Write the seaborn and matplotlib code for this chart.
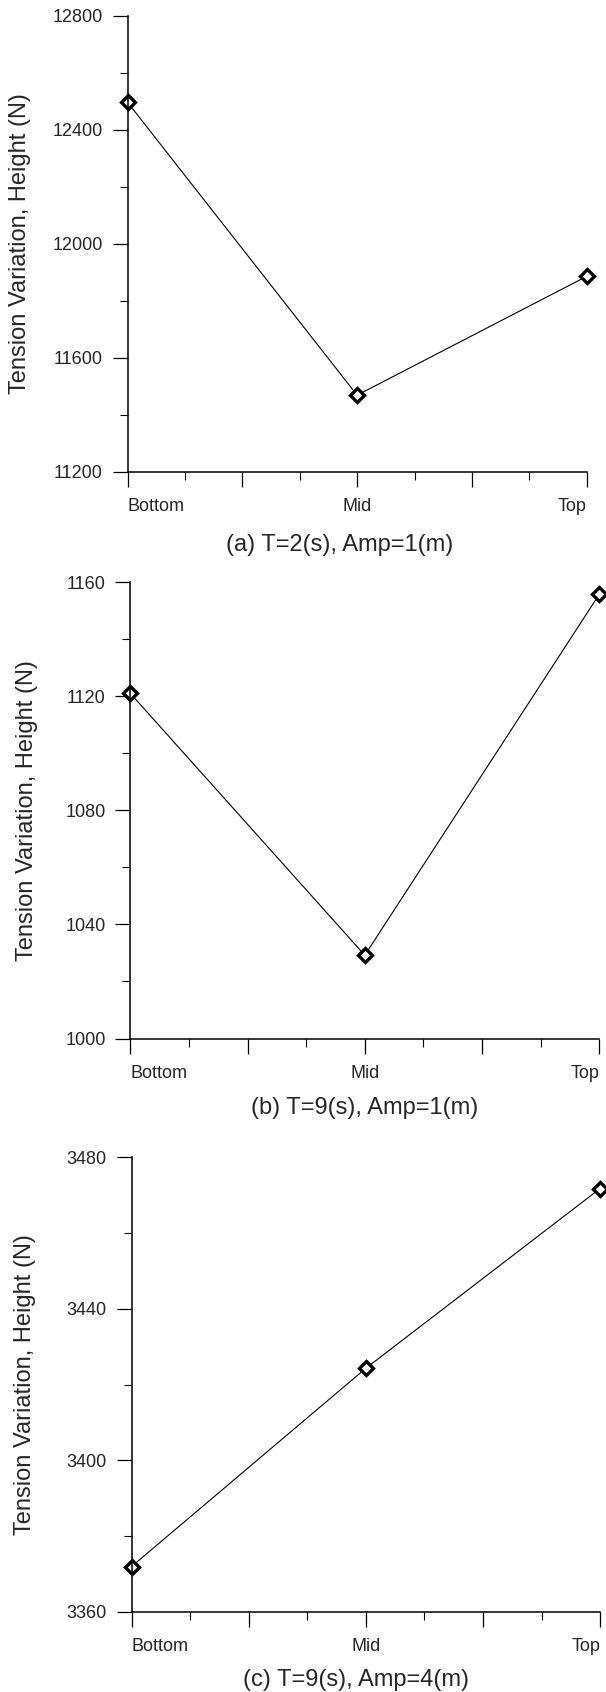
import matplotlib
matplotlib.use("Agg")
import matplotlib.pyplot as plt
import seaborn as sns
from matplotlib.ticker import MultipleLocator
from matplotlib.transforms import ScaledTranslation

heights = ["Bottom", "Mid", "Top"]

tension_a = [12496, 11468, 11885]
tension_b = [1121.0, 1029.2, 1155.7]
tension_c = [3371.9, 3424.3, 3471.8]

captions = ["(a) T=2(s), Amp=1(m)", "(b) T=9(s), Amp=1(m)", "(c) T=9(s), Amp=4(m)"]
ylims = [(11200, 12800), (1000, 1160), (3360, 3480)]
ysteps = [400, 40, 40]

sns.set_style("ticks")
plt.rcParams["font.family"] = ["Liberation Sans", "DejaVu Sans"]

fig = plt.figure(figsize=(6.06, 16.92), dpi=100)
# [left, bottom, width, height] in figure fraction
boxes = [
    [0.2104, 0.7213, 0.7578, 0.2695],
    [0.2150, 0.3862, 0.7739, 0.2698],
    [0.2170, 0.0475, 0.7733, 0.2684],
]
cap_pos = [(0.462, -0.161), (0.500, -0.152), (0.480, -0.151)]
ylab_x = [-0.234, -0.220, -0.227]

xpos = list(range(len(heights)))

for i, (vals, cap, ylim, step) in enumerate(zip([tension_a, tension_b, tension_c],
                                                captions, ylims, ysteps)):
    ax = fig.add_axes(boxes[i])
    sns.lineplot(x=xpos, y=vals, ax=ax, color="black", linewidth=0.8,
                 marker="D", markersize=7.5, markerfacecolor="white",
                 markeredgecolor="black", markeredgewidth=2.4, clip_on=False)
    ax.set_xlim(0, 2)
    ax.set_ylim(*ylim)
    ax.yaxis.set_major_locator(MultipleLocator(step))
    ax.yaxis.set_minor_locator(MultipleLocator(step / 2))
    ax.xaxis.set_minor_locator(MultipleLocator(0.25))
    ax.set_xticks(xpos + [0.5, 1.5])
    ax.set_xticklabels(heights + ["", ""])
    for lbl, ha in zip(ax.get_xticklabels()[:3], ["left", "center", "right"]):
        lbl.set_ha(ha)
    top_lbl = ax.get_xticklabels()[2]
    top_lbl.set_transform(top_lbl.get_transform()
                          + ScaledTranslation(-0.12, 0, fig.dpi_scale_trans))
    ax.tick_params(axis="both", which="major", length=10.8, width=0.9, color="black")
    ax.tick_params(axis="both", which="minor", length=5.5, width=0.8, color="black")
    ax.tick_params(axis="y", labelsize=13, pad=7)
    ax.tick_params(axis="x", labelsize=13, pad=8)
    sns.despine(ax=ax)
    for sp in ["left", "bottom"]:
        ax.spines[sp].set_color("black")
        ax.spines[sp].set_linewidth(1.1)
    ax.set_ylabel("Tension Variation, Height (N)", fontsize=17, va="center")
    ax.yaxis.set_label_coords(ylab_x[i], 0.5)
    ax.set_xlabel(cap, fontsize=17, va="center")
    ax.xaxis.set_label_coords(*cap_pos[i])

fig.savefig("out.png", dpi=100)
